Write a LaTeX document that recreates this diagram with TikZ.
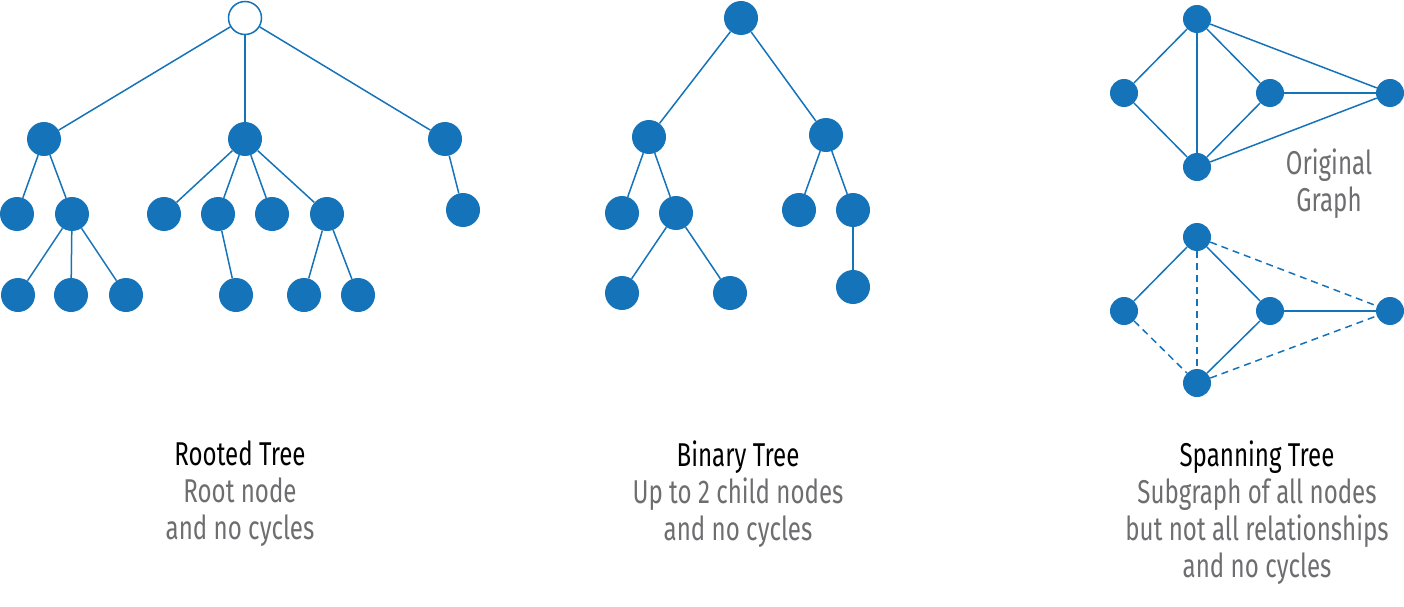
\documentclass[tikz,border=0pt]{standalone}
\usepackage{fontspec}
\setmainfont[FakeStretch=0.73]{Fira Sans}
\definecolor{treeblue}{RGB}{20,115,185}
\definecolor{capgrey}{RGB}{110,110,113}

\begin{document}
\begin{tikzpicture}[x=1pt,y=-1pt,
    dot/.style={circle,fill=treeblue,inner sep=0pt,minimum size=34pt},
    smalldot/.style={circle,fill=treeblue,inner sep=0pt,minimum size=28pt},
    caption/.style={align=center,font=\fontsize{33}{37}\selectfont,text=capgrey}]
      \useasboundingbox (0,0) rectangle (1404,607);
      % rooted tree
      \begin{scope}[every node/.style={dot}]
        \node[fill=white,draw=treeblue,line width=1.5pt,minimum size=33pt] (r1) at (245,18) {};
        \node (r2) at (44,139) {};
        \node (r3) at (245,139) {};
        \node (r4) at (445,139) {};
        \node (r5) at (17,214) {};
        \node (r6) at (72,214) {};
        \node (r7) at (164,214) {};
        \node (r8) at (218,214) {};
        \node (r9) at (272,214) {};
        \node (r10) at (327,214) {};
        \node (r11) at (463,210) {};
        \node (r12) at (18,295) {};
        \node (r13) at (71,295) {};
        \node (r14) at (126,295) {};
        \node (r15) at (236,295) {};
        \node (r16) at (304,295) {};
        \node (r17) at (358,295) {};
      \end{scope}
      % binary tree
      \begin{scope}[every node/.style={dot}]
        \node (b1) at (741,18) {};
        \node (b2) at (649,137) {};
        \node (b3) at (826,135) {};
        \node (b4) at (622,213) {};
        \node (b5) at (676,213) {};
        \node (b6) at (799,210) {};
        \node (b7) at (853,210) {};
        \node (b8) at (622,293) {};
        \node (b9) at (730,293) {};
        \node (b10) at (853,287) {};
      \end{scope}
      % spanning tree
      \begin{scope}[every node/.style={smalldot}]
        \node (g1) at (1197,19) {};
        \node (g2) at (1124,93) {};
        \node (g3) at (1270,93) {};
        \node (g4) at (1390,93) {};
        \node (g5) at (1197,167) {};
        \node (s1) at (1197,237) {};
        \node (s2) at (1124,311) {};
        \node (s3) at (1270,311) {};
        \node (s4) at (1390,311) {};
        \node (s5) at (1197,383) {};
      \end{scope}
      \begin{scope}[every edge/.style={draw,treeblue,line width=1.5pt}]
        \path (r1) edge (r2);
        \path (r1) edge (r3);
        \path (r1) edge (r4);
        \path (r2) edge (r5);
        \path (r2) edge (r6);
        \path (r6) edge (r12);
        \path (r6) edge (r13);
        \path (r6) edge (r14);
        \path (r3) edge (r7);
        \path (r3) edge (r8);
        \path (r3) edge (r9);
        \path (r3) edge (r10);
        \path (r8) edge (r15);
        \path (r10) edge (r16);
        \path (r10) edge (r17);
        \path (r4) edge (r11);
        \path (b1) edge (b2);
        \path (b1) edge (b3);
        \path (b2) edge (b4);
        \path (b2) edge (b5);
        \path (b5) edge (b8);
        \path (b5) edge (b9);
        \path (b3) edge (b6);
        \path (b3) edge (b7);
        \path (b7) edge (b10);
        \path (g1) edge (g2);
        \path (g1) edge (g3);
        \path (g1) edge (g4);
        \path (g1) edge (g5);
        \path (g2) edge (g5);
        \path (g3) edge (g5);
        \path (g3) edge (g4);
        \path (g4) edge (g5);
        \path (s1) edge (s2);
        \path (s1) edge (s3);
        \path (s3) edge (s5);
        \path (s3) edge (s4);
      \end{scope}
      \begin{scope}[every edge/.style={draw,treeblue,line width=1.5pt,dash pattern=on 7pt off 5pt}]
        \path (s1) edge (s5);
        \path (s1) edge (s4);
        \path (s2) edge (s5);
        \path (s5) edge (s4);
      \end{scope}
      % captions
      \node[caption] (orig) at (1329,184) {Original\\Graph};
      \node[caption,anchor=north] (rooted) at (240,437) {\textcolor{black}{Rooted Tree}\\Root node\\and no cycles};
      \node[caption,anchor=north] (binary) at (738,437) {\textcolor{black}{Binary Tree}\\Up to 2 child nodes\\and no cycles};
      \node[caption,anchor=north] (spanning) at (1257,437) {\textcolor{black}{Spanning Tree}\\Subgraph of all nodes\\but not all relationships\\and no cycles};
    \end{tikzpicture}
\end{document}
